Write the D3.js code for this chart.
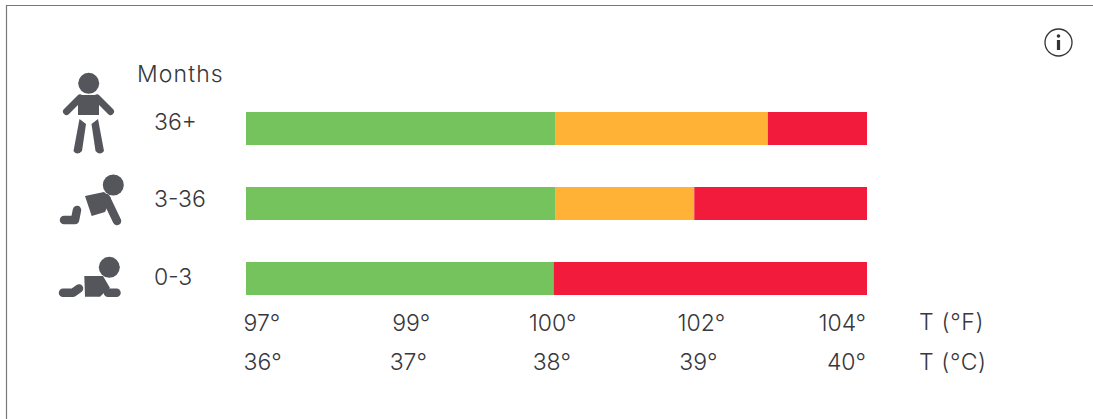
<!DOCTYPE html>
<html>
<head>
<meta charset="utf-8">
<script src="https://cdn.jsdelivr.net/npm/d3@7"></script>
<style>
  body { margin: 0; background: #fff; }
  text { font-family: Inter, "Open Sans", sans-serif; font-weight: 300; font-size: 23px; fill: #37373c; }
  .axis .domain, .axis line { display: none; }
</style>
</head>
<body>
<svg id="chart" width="1093" height="419"></svg>
<script>
// age groups, top to bottom
let grupos = ["36+", "3-36", "0-3"];

// limits of each coloured band, read in degrees C along the axis
let inicio = [35.89, 35.89, 35.89];
let finVerde = [38.01, 38.01, 38.0];
let finNaranja = [39.47, 38.965, 38.0];
let finRojo = [40.15, 40.15, 40.15];

// tick labels and where they sit along the axis
let ticksF = ["97°", "99°", "100°", "102°", "104°"];
let posF = [35.87, 37.02, 37.99, 39.01, 40.14];
let ticksC = ["36°", "37°", "38°", "39°", "40°"];
let posC = [35.87, 37.0, 37.984, 38.99, 40.14];

let colores = { verde: "#75c35c", naranja: "#ffb236", rojo: "#f21b3c" };
let gris = "#55555c";

let svg = d3.select("#chart");

let x = d3.scaleLinear().domain([35.89, 40.15]).range([246, 867]);
let yFila = d3.scaleOrdinal().domain(grupos).range([112, 187, 262]);
let yEtiqueta = d3.scaleOrdinal().domain(grupos).range([130, 207, 285]);

let filas = grupos.map((g, i) => [
    { grupo: g, a: inicio[i], b: finVerde[i], c: colores.verde },
    { grupo: g, a: finVerde[i], b: finNaranja[i], c: colores.naranja },
    { grupo: g, a: finNaranja[i], b: finRojo[i], c: colores.rojo }
]).flat().filter(d => d.b > d.a);

// marco
svg.append("path")
    .attr("d", "M6.5,419V5.5H1093")
    .attr("fill", "none")
    .attr("stroke", "#77777a")
    .attr("stroke-width", 1.2);

svg.selectAll("rect.barra")
    .data(filas)
    .enter()
    .append("rect")
    .attr("class", "barra")
    .attr("x", d => x(d.a))
    .attr("y", d => yFila(d.grupo))
    .attr("width", d => x(d.b) - x(d.a))
    .attr("height", 33)
    .attr("fill", d => d.c);

svg.append("text").attr("x", 137).attr("y", 82).style("letter-spacing", "1.1px").text("Months");

svg.selectAll("text.grupo")
    .data(grupos)
    .enter()
    .append("text")
    .attr("class", "grupo")
    .attr("x", 154)
    .attr("y", d => yEtiqueta(d))
    .text(d => d);

function eje(pos, labels, yEje) {
    let g = svg.append("g")
        .attr("class", "axis")
        .attr("transform", "translate(0," + yEje + ")")
        .call(d3.axisBottom(x)
            .tickValues(pos)
            .tickSize(0)
            .tickPadding(0)
            .tickFormat((d, i) => labels[i]));
    g.attr("font-family", null).attr("font-size", null);
    g.selectAll("text")
        .attr("y", 0)
        .attr("dy", null)
        .attr("text-anchor", (d, i) => i == 0 ? "start" : i == labels.length - 1 ? "end" : "middle");
}
eje(posF, ticksF, 331);
eje(posC, ticksC, 370);

svg.append("text").attr("x", 919).attr("y", 330).style("letter-spacing", "0.7px").text("T (°F)");
svg.append("text").attr("x", 919).attr("y", 370).style("letter-spacing", "0.6px").text("T (°C)");

// icono info
let info = svg.append("g").attr("transform", "translate(1058.5,42.5)");
info.append("circle").attr("r", 13.5).attr("fill", "none").attr("stroke", "#333").attr("stroke-width", 1.3);
info.append("circle").attr("cy", -6.5).attr("r", 1.8).attr("fill", "#333");
info.append("rect").attr("x", -1.6).attr("y", -2.5).attr("width", 3.2).attr("height", 10).attr("fill", "#333");

// niño de pie
let nino = svg.append("g");
nino.append("circle").attr("cx", 88.7).attr("cy", 83.3).attr("r", 10.5).attr("fill", gris);
nino.append("path").attr("fill", gris)
    .attr("d", "M78,95H99V115H78ZM79.5,119L86,124L82,151Q77,156,73.5,151ZM98,119L91.5,124L95.5,151Q100,156,104,151Z");
nino.append("path").attr("fill", "none").attr("stroke", gris).attr("stroke-width", 7).attr("stroke-linecap", "round")
    .attr("d", "M80,98L66.5,111.5M97,98L110.5,111.5");

// gateando
let gatea = svg.append("g");
gatea.append("circle").attr("cx", 113.3).attr("cy", 185).attr("r", 10.5).attr("fill", gris);
gatea.append("path").attr("fill", gris).attr("d", "M85,196L104,192L111,198L105,212L91.7,216Z");
gatea.append("path").attr("fill", "none").attr("stroke", gris).attr("stroke-width", 8.5).attr("stroke-linecap", "round").attr("stroke-linejoin", "round")
    .attr("d", "M106,198L117,221M77,210L75,220H64");

// bebé
let bebe = svg.append("g");
bebe.append("circle").attr("cx", 109.3).attr("cy", 267.3).attr("r", 10.5).attr("fill", gris);
bebe.append("path").attr("fill", gris).attr("d", "M84.3,276H103L110,288L105,292L100,296.7H85Z");
bebe.append("path").attr("fill", "none").attr("stroke", gris).attr("stroke-width", 8.5).attr("stroke-linecap", "round").attr("stroke-linejoin", "round")
    .attr("d", "M108,292.7H116.5M63,292.7H73L79,288.5");
</script>
</body>
</html>
